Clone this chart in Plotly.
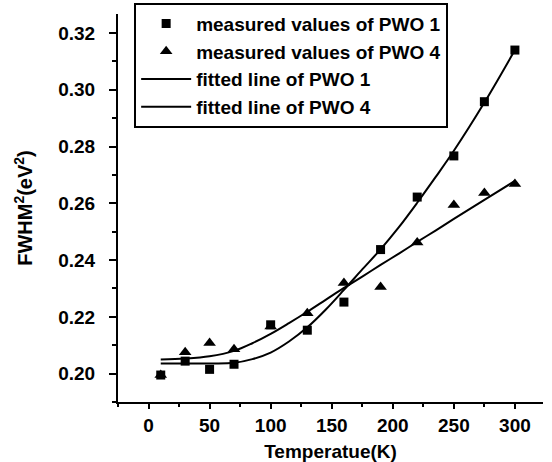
import plotly.graph_objects as go

# Measured data
temps = [10, 30, 50, 70, 100, 130, 160, 190, 220, 250, 275, 300]
pwo1_meas = [0.1995, 0.2044, 0.2015, 0.2033, 0.2172, 0.2153, 0.2252, 0.2437, 0.2622, 0.2767, 0.2958, 0.3140]
pwo4_meas = [0.1995, 0.2075, 0.2108, 0.2086, 0.2166, 0.2213, 0.2319, 0.2305, 0.2462, 0.2594, 0.2636, 0.2668]

# Fitted curves
fit_t = [10, 30, 50, 70, 85, 100, 115, 130, 145, 160, 175, 190, 205, 220, 235, 250, 275, 300]
pwo1_fit = [0.2036, 0.2036, 0.2036, 0.2038, 0.2051, 0.2074, 0.2113, 0.2163, 0.2225, 0.2295, 0.2367, 0.2438,
            0.2516, 0.2602, 0.2692, 0.2785, 0.2955, 0.3140]
pwo4_fit = [0.2050, 0.2053, 0.2061, 0.2080, 0.2107, 0.2140, 0.2178, 0.2218, 0.2260, 0.2302, 0.2342, 0.2383,
            0.2423, 0.2464, 0.2504, 0.2545, 0.2612, 0.2679]

names = ["measured values of PWO 1", "measured values of PWO 4", "fitted line of PWO 1", "fitted line of PWO 4"]

x_ticks = [0, 50, 100, 150, 200, 250, 300]
y_ticks = [0.20, 0.22, 0.24, 0.26, 0.28, 0.30, 0.32]

FONT = "Liberation Sans, Arial, sans-serif"

fig = go.Figure()
fig.add_trace(go.Scatter(x=temps, y=pwo1_meas, mode="markers", name=names[0],
                         marker=dict(symbol="square", size=9, color="black")))
fig.add_trace(go.Scatter(x=temps, y=pwo4_meas, mode="markers", name=names[1],
                         marker=dict(symbol="triangle-up", size=11, color="black")))
fig.add_trace(go.Scatter(x=fit_t, y=pwo1_fit, mode="lines", name=names[2],
                         line=dict(color="black", width=2, shape="spline", smoothing=1.0)))
fig.add_trace(go.Scatter(x=fit_t, y=pwo4_fit, mode="lines", name=names[3],
                         line=dict(color="black", width=2, shape="spline", smoothing=1.0)))

fig.update_layout(
    width=552, height=462,
    margin=dict(l=118, r=9, t=14, b=60, autoexpand=False),
    paper_bgcolor="white", plot_bgcolor="white",
    font=dict(family=FONT, size=19, color="black"),
    showlegend=True,
    legend=dict(x=0.038, y=1.029, xanchor="left", yanchor="top",
                bordercolor="black", borderwidth=2, bgcolor="white",
                font=dict(family=FONT, size=19, color="black", weight="bold"),
                itemwidth=50, tracegroupgap=0),
)
fig.update_xaxes(
    range=[-25, 323], tickmode="array", tickvals=x_ticks, ticktext=[str(v) for v in x_ticks],
    showline=True, linecolor="black", linewidth=2, mirror=False,
    ticks="outside", ticklen=5, tickwidth=2, tickcolor="black",
    minor=dict(dtick=25, tick0=0, ticks="outside", ticklen=3, tickwidth=2, tickcolor="black"),
    showgrid=False, zeroline=False, automargin=False,
    tickfont=dict(family=FONT, size=19, weight="bold"),
    title=dict(text="Temperatue(K)", font=dict(family=FONT, size=19, weight="bold"), standoff=10),
)
fig.update_yaxes(
    range=[0.19, 0.3267], tickmode="array", tickvals=y_ticks, ticktext=["%.2f" % v for v in y_ticks],
    showline=True, linecolor="black", linewidth=2, mirror=False,
    ticks="outside", ticklen=7, tickwidth=2, tickcolor="black",
    minor=dict(dtick=0.01, tick0=0.19, ticks="outside", ticklen=4, tickwidth=2, tickcolor="black"),
    showgrid=False, zeroline=False, automargin=False,
    tickfont=dict(family=FONT, size=19, weight="bold"),
    ticklabelstandoff=10,
    title=dict(text="FWHM<sup>2</sup>(eV<sup>2</sup>)", font=dict(family=FONT, size=20, weight="bold"), standoff=20),
)

fig.write_html("out.html")
